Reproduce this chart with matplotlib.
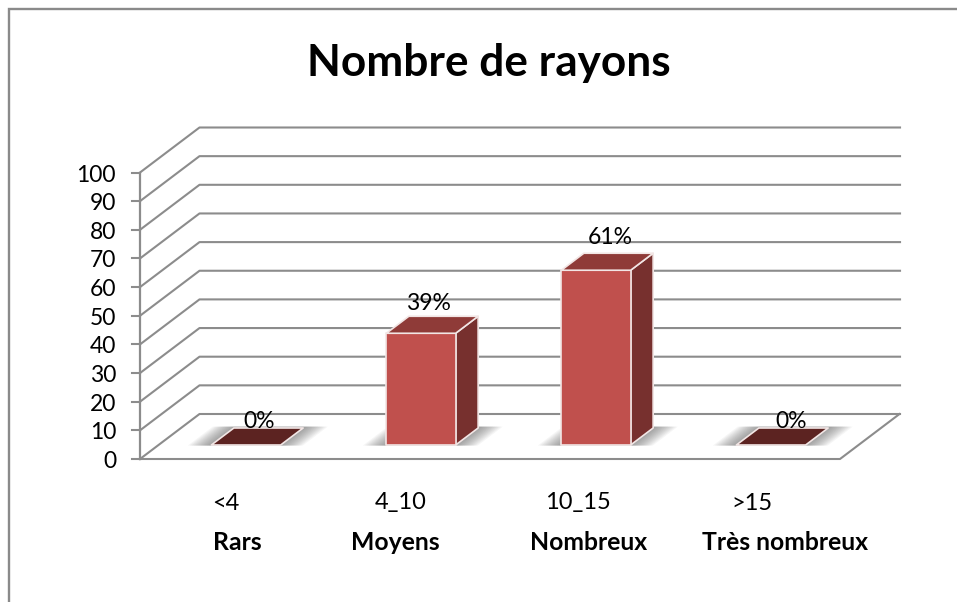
import matplotlib
matplotlib.use("Agg")
import matplotlib.pyplot as plt
from matplotlib.patches import Polygon

categories = ["<4", "4_10", "10_15", ">15"]
names = ["Rars", "Moyens", "Nombreux", "Très nombreux"]
values = [0, 39, 61, 0]
value_labels = ["0%", "39%", "61%", "0%"]
yticks = list(range(0, 101, 10))
title = "Nombre de rayons"

W, H = 957, 602
X0, Y0 = 140, 459          # pixel of the front-left origin
CAT_W = 175                # pixels per category
VAL_H = 2.865              # pixels per value unit
DEPTH_X, DEPTH_Y = 59.5, 45
BAR_W = 0.396              # in category units
BAR_LEFT = 0.302           # bar start inside its category
BAR_D0, BAR_D1 = 14 / 45, 31 / 45   # bar depth range on the floor

GRID = "#8c8c8c"
FRONT, SIDE, TOP, ZERO_TOP = "#c0504d", "#77302e", "#8f3b38", "#5c2321"

plt.rcParams["font.family"] = ["Lato", "DejaVu Sans"]
fig = plt.figure(figsize=(W / 100, H / 100), dpi=100)
ax = fig.add_axes([0, 0, 1, 1])
ax.set_xlim(-X0 / CAT_W, (W - X0) / CAT_W)
ax.set_ylim(-(H - Y0) / VAL_H, Y0 / VAL_H)
ax.axis("off")


def proj(x, v, d=0.0):
    """Oblique projection: category x, value v, depth d (0 front .. 1 back)."""
    return (x + d * DEPTH_X / CAT_W, v + d * DEPTH_Y / VAL_H)


def px(x, y):
    """Pixel position (from the top-left) to data coordinates."""
    return ((x - X0) / CAT_W, (Y0 - y) / VAL_H)


# figure frame
ax.plot(*zip(px(8.5, H), px(8.5, 9), px(W, 9)), color="#8a8a8a", lw=1.7, zorder=1,
        solid_joinstyle="miter")

# walls and floor
n = len(categories)
for v in yticks:
    pts = [proj(0, v), proj(0, v, 1), proj(n + 0.003, v, 1)]
    ax.plot(*zip(*pts), color=GRID, lw=1.5, zorder=2, solid_joinstyle="round")
    tick = [px(X0 - 8, Y0 - v * VAL_H), proj(0, v)]
    ax.plot(*zip(*tick), color=GRID, lw=1.5, zorder=2)
    ax.text(*px(116, Y0 - v * VAL_H + 2.5), str(v), ha="right", va="center",
            fontsize=16.5, color="black", zorder=6)
ax.plot(*zip(proj(0, 0), proj(0, yticks[-1])), color=GRID, lw=1.6, zorder=2)
ax.plot(*zip(proj(0, 0), proj(n, 0), proj(n, 0, 1)), color=GRID, lw=1.5, zorder=2)

# bars
for i, v in enumerate(values):
    x0 = i + BAR_LEFT
    x1 = x0 + BAR_W
    # soft shadow on the floor
    steps = 12
    for s in range(steps):
        grow = (steps - s) * 1.9 / CAT_W
        shadow = [proj(x0 - grow, 0, BAR_D0 - 0.012), proj(x1 + grow, 0, BAR_D0 - 0.012),
                  proj(x1 + grow, 0, BAR_D1 + 0.03), proj(x0 - grow, 0, BAR_D1 + 0.03)]
        ax.add_patch(Polygon(shadow, closed=True, fc="#505050", ec="none",
                             alpha=0.055, zorder=3))
    kw = dict(closed=True, ec="#f2e6e5", lw=1.2, joinstyle="round", zorder=4)
    if v > 0:
        ax.add_patch(Polygon([proj(x1, 0, BAR_D0), proj(x1, 0, BAR_D1), proj(x1, v, BAR_D1),
                              proj(x1, v, BAR_D0)], fc=SIDE, **kw))
        ax.add_patch(Polygon([proj(x0, 0, BAR_D0), proj(x1, 0, BAR_D0), proj(x1, v, BAR_D0),
                              proj(x0, v, BAR_D0)], fc=FRONT, **kw))
    ax.add_patch(Polygon([proj(x0, v, BAR_D0), proj(x1, v, BAR_D0), proj(x1, v, BAR_D1),
                          proj(x0, v, BAR_D1)], fc=TOP if v > 0 else ZERO_TOP, **kw))

# value labels
label_px = [(259, 422), (428, 304), (610, 238), (791, 422)]
for lab, (lx, ly) in zip(value_labels, label_px):
    ax.text(*px(lx, ly), lab, ha="center", va="center", fontsize=16.5,
            color="black", zorder=6)

# category text rows
cat_px = [226, 401, 578, 752]
name_px = [237, 395, 589, 785]
for c, cx in zip(categories, cat_px):
    ax.text(*px(cx, 503), c, ha="center", va="center", fontsize=17, color="black")
for nm, nx in zip(names, name_px):
    ax.text(*px(nx, 542), nm, ha="center", va="center", fontsize=17.8,
            fontweight="bold", color="black")

ax.text(*px(488.5, 63), title, ha="center", va="center", fontsize=31.8,
        fontweight="bold", color="black")

fig.savefig("out.png", dpi=100, facecolor="white")
